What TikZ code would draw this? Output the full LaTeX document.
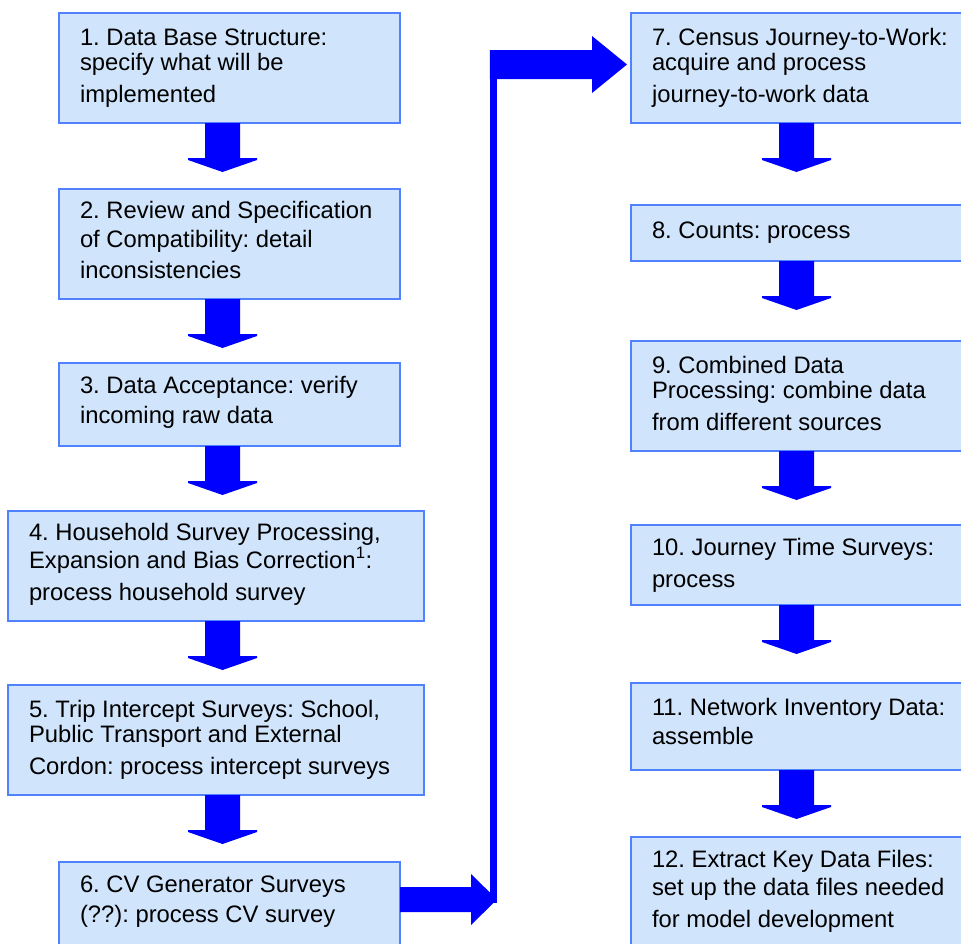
\documentclass[tikz,border=0pt]{standalone}
\usepackage{fontspec}
\setmainfont{Liberation Sans}
\usetikzlibrary{calc}
\definecolor{boxfill}{RGB}{208,228,252}
\definecolor{boxline}{RGB}{80,130,255}
\definecolor{flowblue}{RGB}{0,0,255}
\tikzset{
  stepbox/.style={draw=boxline, fill=boxfill, line width=1.3pt, inner sep=0pt, outer sep=0pt, anchor=north west},
  steptext/.style={anchor=base west, inner sep=0pt, outer sep=0pt, text=black, font=\fontsize{23.8}{25}\selectfont\frenchspacing},
}
% #1 name, #2 left, #3 top, #4 right, #5 bottom, #6 first baseline below top, #7 text
\newcommand\flowstep[7]{%
  \node[stepbox, minimum width={#4-#2}, minimum height={#5-#3}] (#1) at (#2,#3) {};
  \node[steptext] (#1text) at ($(#1.north west)+(21,#6)$)
    {\parbox[t]{560pt}{\frenchspacing\lineskiplimit=-100pt #7}};
}
% block arrow hanging below node #1; #2 = shaft offset from the node's left edge
\newcommand\flowdown[2]{%
  \fill[flowblue] ($(#1.south west)+(#2,0)$) -- ++(35,0) -- ++(0,35) -- ++(17,0) -- ++(0,2)
    -- ++(-34.5,12) -- ++(-34.5,-12) -- ++(0,-2) -- ++(17,0) -- cycle;
}
\begin{document}
\begin{tikzpicture}[x=1pt, y=-1pt]
\useasboundingbox (0,0) rectangle (961,943);
\clip (0,0) rectangle (961,943);

% left column
\flowstep{b1}{59}{13}{400}{123}{32}{1. Data Base Structure:\\ specify what will be\\[7pt] implemented}
\flowstep{b2}{59}{189}{400}{299}{29}{2. Review and Specification\\[4pt] of Compatibility: detail\\[6pt] inconsistencies}
\flowstep{b3}{59}{363}{400}{446}{30}{3. Data Acceptance: verify\\[5pt] incoming raw data}
\flowstep{b4}{8}{511}{424}{621}{29}{4. Household Survey Processing,\\[3pt] Expansion and Bias Correction\textsuperscript{1}:\\[7pt] process household survey}
\flowstep{b5}{8}{685}{424}{795}{32}{5. Trip Intercept Surveys: School,\\ Public Transport and External\\[7pt] Cordon: process intercept surveys}
\flowstep{b6}{59}{862}{400}{990}{30}{6. CV Generator Surveys\\[5pt] (??): process CV survey}

% right column
\flowstep{b7}{631}{13}{990}{123}{32}{7. Census Journey-to-Work:\\ acquire and process\\[7pt] journey-to-work data}
\flowstep{b8}{631}{205}{990}{261}{33}{8. Counts: process}
\flowstep{b9}{631}{341}{990}{451}{32}{9. Combined Data\\ Processing: combine data\\[7pt] from different sources}
\flowstep{b10}{631}{525}{990}{605}{30}{10. Journey Time Surveys:\\[7pt] process}
\flowstep{b11}{631}{683}{990}{770}{32}{11. Network Inventory Data:\\[4pt] assemble}
\flowstep{b12}{631}{837}{990}{990}{30}{12. Extract Key Data Files:\\[3pt] set up the data files needed\\[7pt] for model development}

% downward block arrows
\flowdown{b1}{146}
\flowdown{b2}{146}
\flowdown{b3}{146}
\flowdown{b4}{197}
\flowdown{b5}{197}
\flowdown{b7}{148}
\flowdown{b8}{148}
\flowdown{b9}{148}
\flowdown{b10}{148}
\flowdown{b11}{148}

% elbow connector from step 6 up to step 7
\coordinate (elbowlow) at (493.5,903);
\coordinate (elbowhigh) at (493.5,50);
\coordinate (headtip) at ($(b7.north west)+(-4,51.5)$);
\fill[flowblue] ($(b6.north east)+(0,25)$) -- ++(71,0) -- ++(0,-13) -- ++(26,25.5)
  -- ++(-26,25.5) -- ++(0,-13) -- ++(-71,0) -- cycle;
\draw[flowblue, line width=7.5pt] (elbowlow) -- (elbowhigh);
\fill[flowblue] ($(elbowhigh)+(-3.75,0)$) -- (592,50) -- (592,36) -- (headtip)
  -- (592,93) -- (592,79) -- ($(elbowhigh)+(-3.75,29)$) -- cycle;
\end{tikzpicture}
\end{document}
